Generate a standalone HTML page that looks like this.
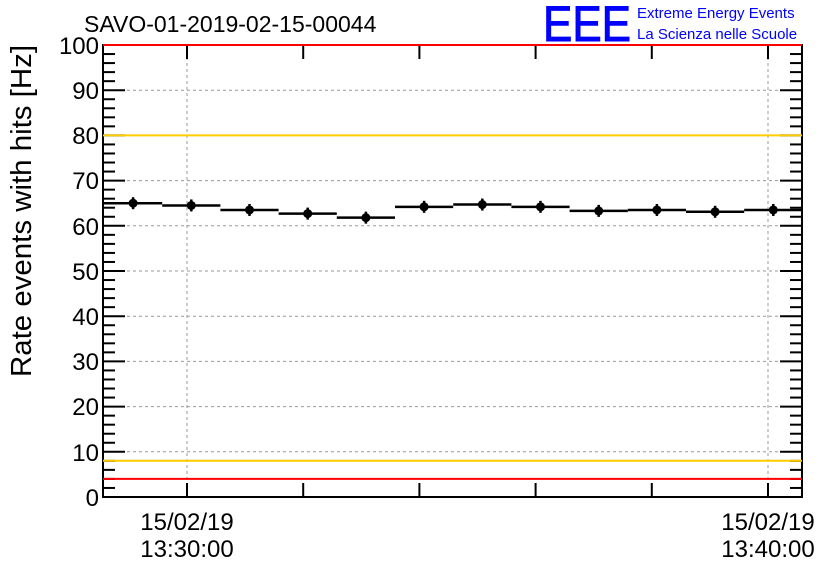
<!DOCTYPE html><html><head><style>body{margin:0;background:#fff}svg{display:block}text{font-family:"Liberation Sans",sans-serif}</style></head><body>
<svg width="836" height="572" viewBox="0 0 836 572">
<rect width="836" height="572" fill="#fff"/>
<g stroke="#999" stroke-dasharray="3,3" stroke-width="1">
<line x1="103" x2="802" y1="90.2" y2="90.2"/><line x1="103" x2="802" y1="135.4" y2="135.4"/><line x1="103" x2="802" y1="180.6" y2="180.6"/><line x1="103" x2="802" y1="225.8" y2="225.8"/><line x1="103" x2="802" y1="271" y2="271"/><line x1="103" x2="802" y1="316.2" y2="316.2"/><line x1="103" x2="802" y1="361.4" y2="361.4"/><line x1="103" x2="802" y1="406.6" y2="406.6"/><line x1="103" x2="802" y1="451.8" y2="451.8"/>
<line x1="187" x2="187" y1="45" y2="497"/><line x1="768" x2="768" y1="45" y2="497"/>
</g>
<g id="t" stroke="#000" stroke-width="2" fill="none"></g>
<rect x="103" y="45" width="699" height="452" fill="none" stroke="#000" stroke-width="2"/>
<line x1="103" x2="802" y1="135.4" y2="135.4" stroke="#fc0" stroke-width="2"/>
<line x1="103" x2="802" y1="460.8" y2="460.8" stroke="#fc0" stroke-width="2"/>
<line x1="103" x2="802" y1="45" y2="45" stroke="#f00" stroke-width="2"/>
<line x1="103" x2="802" y1="478.9" y2="478.9" stroke="#f00" stroke-width="2"/>
<g font-size="24" text-anchor="end" fill="#000">
<text x="99" y="506">0</text><text x="99" y="461">10</text><text x="99" y="415">20</text><text x="99" y="370">30</text><text x="99" y="325">40</text><text x="99" y="280">50</text><text x="99" y="235">60</text><text x="99" y="189">70</text><text x="99" y="144">80</text><text x="99" y="99">90</text><text x="99" y="54">100</text>
</g>
<g font-size="24" text-anchor="middle"><text x="187" y="530">15/02/19</text><text x="187" y="557">13:30:00</text><text x="768" y="530">15/02/19</text><text x="768" y="557">13:40:00</text></g>
<text transform="translate(31,377) rotate(-90)" font-size="29" textLength="332" lengthAdjust="spacingAndGlyphs">Rate events with hits [Hz]</text>
<text x="84" y="32" font-size="23">SAVO-01-2019-02-15-00044</text>
<text x="543" y="41" font-size="50" fill="#00f" stroke="#00f" stroke-width="1" textLength="88" lengthAdjust="spacingAndGlyphs">EEE</text>
<text x="637" y="18" font-size="15" fill="#00f">Extreme Energy Events</text>
<text x="637" y="39" font-size="15" fill="#00f">La Scienza nelle Scuole</text>
<g id="d" stroke="#000" stroke-width="2.5" fill="#000"></g>
</svg>
<script>
var t=document.getElementById('t'),s='';
for(var v=0;v<=100;v+=2){var y=497-v*4.52,L=v%10==0?22:12;s+='<line x1="103" x2="'+(103+L)+'" y1="'+y+'" y2="'+y+'"/><line x1="'+(802-L)+'" x2="802" y1="'+y+'" y2="'+y+'"/>';}
for(var m=0;m<=10;m+=2){var x=187+m*58.1;s+='<line y1="497" y2="'+(497-14)+'" x1="'+x+'" x2="'+x+'"/><line y1="45" y2="'+(45+14)+'" x1="'+x+'" x2="'+x+'"/>';}
t.innerHTML=s;
var vals=[65,64.5,63.5,62.7,61.8,64.2,64.7,64.2,63.3,63.5,63.1,63.5],d=document.getElementById('d'),q='';
for(var i=0;i<12;i++){var x0=104+i*58.2,x1=x0+58.2,cx=(x0+x1)/2,y=497-vals[i]*4.52;q+='<line x1="'+x0+'" x2="'+x1+'" y1="'+y+'" y2="'+y+'"/><line x1="'+cx+'" x2="'+cx+'" y1="'+(y-6)+'" y2="'+(y+6)+'"/><circle cx="'+cx+'" cy="'+y+'" r="4.5" stroke="none"/>';}
d.innerHTML=q;
</script>
</body></html>
